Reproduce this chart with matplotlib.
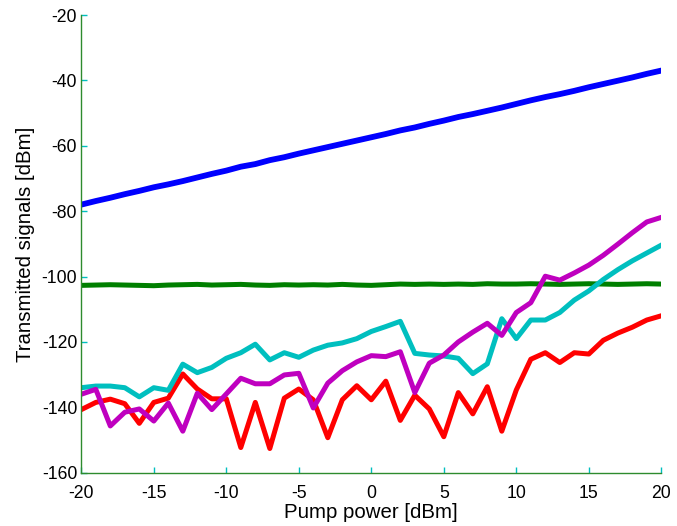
import matplotlib
matplotlib.use("Agg")
import matplotlib.pyplot as plt

plt.rcParams['font.family'] = ['Liberation Sans', 'DejaVu Sans']
plt.rcParams['axes.unicode_minus'] = False

pump_dbm = list(range(-20, 21))

blue_sig = [-78.0, -76.9, -75.9, -74.8, -73.8, -72.7, -71.8, -70.8, -69.7, -68.6,
            -67.6, -66.4, -65.6, -64.4, -63.5, -62.4, -61.4, -60.4, -59.4, -58.4,
            -57.4, -56.4, -55.3, -54.4, -53.3, -52.3, -51.2, -50.3, -49.3, -48.3,
            -47.2, -46.1, -45.1, -44.2, -43.2, -42.1, -41.1, -40.1, -39.1, -38.0, -37.0]

green_sig = [-102.7, -102.6, -102.5, -102.6, -102.7, -102.8, -102.6, -102.5, -102.4, -102.6,
             -102.5, -102.4, -102.6, -102.7, -102.5, -102.6, -102.5, -102.6, -102.4, -102.6,
             -102.7, -102.5, -102.3, -102.4, -102.3, -102.4, -102.3, -102.4, -102.2, -102.3,
             -102.3, -102.2, -102.3, -102.4, -102.3, -102.2, -102.3, -102.4, -102.3, -102.2, -102.3]

cyan_sig = [-134.0, -133.5, -133.5, -134.0, -136.8, -134.0, -134.8, -126.8, -129.4, -127.8,
            -125.0, -123.3, -120.7, -125.5, -123.3, -124.7, -122.5, -121.0, -120.3, -119.0,
            -116.8, -115.3, -113.7, -123.5, -124.0, -124.3, -125.0, -129.7, -126.7, -112.9,
            -119.0, -113.3, -113.3, -111.0, -107.2, -104.4, -100.9, -97.9, -95.2, -92.8, -90.4]

magenta_sig = [-136.0, -134.5, -145.7, -141.5, -140.5, -144.2, -138.7, -147.3, -135.7, -140.7,
               -135.9, -131.1, -132.8, -132.8, -130.1, -129.6, -140.2, -132.6, -128.8, -126.1,
               -124.2, -124.5, -123.0, -135.5, -126.5, -124.0, -120.0, -117.0, -114.3, -118.0,
               -111.0, -108.0, -99.9, -101.1, -98.9, -96.5, -93.5, -90.1, -86.6, -83.3, -81.9]

red_sig = [-140.7, -138.5, -137.5, -138.9, -144.9, -138.5, -137.2, -129.8, -134.4, -137.4,
           -137.4, -152.3, -138.5, -152.6, -137.2, -134.4, -137.7, -149.3, -137.7, -133.4,
           -137.7, -132.0, -144.0, -136.3, -140.5, -149.0, -135.5, -142.0, -133.7, -147.3,
           -134.7, -125.3, -123.3, -126.3, -123.3, -123.7, -119.5, -117.3, -115.5, -113.3, -112.0]

x_ticks = [-20, -15, -10, -5, 0, 5, 10, 15, 20]
y_ticks = [-160, -140, -120, -100, -80, -60, -40, -20]

fig = plt.figure(figsize=(6.77, 5.26), dpi=100)
ax = fig.add_axes([81.3 / 677, 1 - 472.7 / 526, (661.3 - 81.3) / 677, (472.7 - 15) / 526])

ax.plot(pump_dbm, blue_sig, color='#0000ff', lw=4.2, solid_joinstyle='round')
ax.plot(pump_dbm, green_sig, color='#007f00', lw=3.6, solid_joinstyle='round')
ax.plot(pump_dbm, red_sig, color='#ff0000', lw=3.6, solid_joinstyle='round')
ax.plot(pump_dbm, cyan_sig, color='#00bfbf', lw=3.6, solid_joinstyle='round')
ax.plot(pump_dbm, magenta_sig, color='#bf00bf', lw=3.6, solid_joinstyle='round')

ax.set_xlim(-20, 20)
ax.set_ylim(-160, -20)
ax.set_xticks(x_ticks)
ax.set_yticks(y_ticks)
ax.tick_params(direction='in', length=4, width=1, color='#00bfbf',
               labelsize=12.7, labelcolor='black')
ax.tick_params(axis='x', pad=8.5)
ax.tick_params(axis='y', pad=3)

for side in ('top', 'right'):
    ax.spines[side].set_visible(False)
for side in ('left', 'bottom'):
    ax.spines[side].set_color('#2e8b2e')
    ax.spines[side].set_linewidth(1.0)

ax.set_xlabel('Pump power [dBm]', fontsize=14.7, labelpad=1)
ax.set_ylabel('Transmitted signals [dBm]', fontsize=14.7, labelpad=5)

fig.savefig('out.png', dpi=100)
